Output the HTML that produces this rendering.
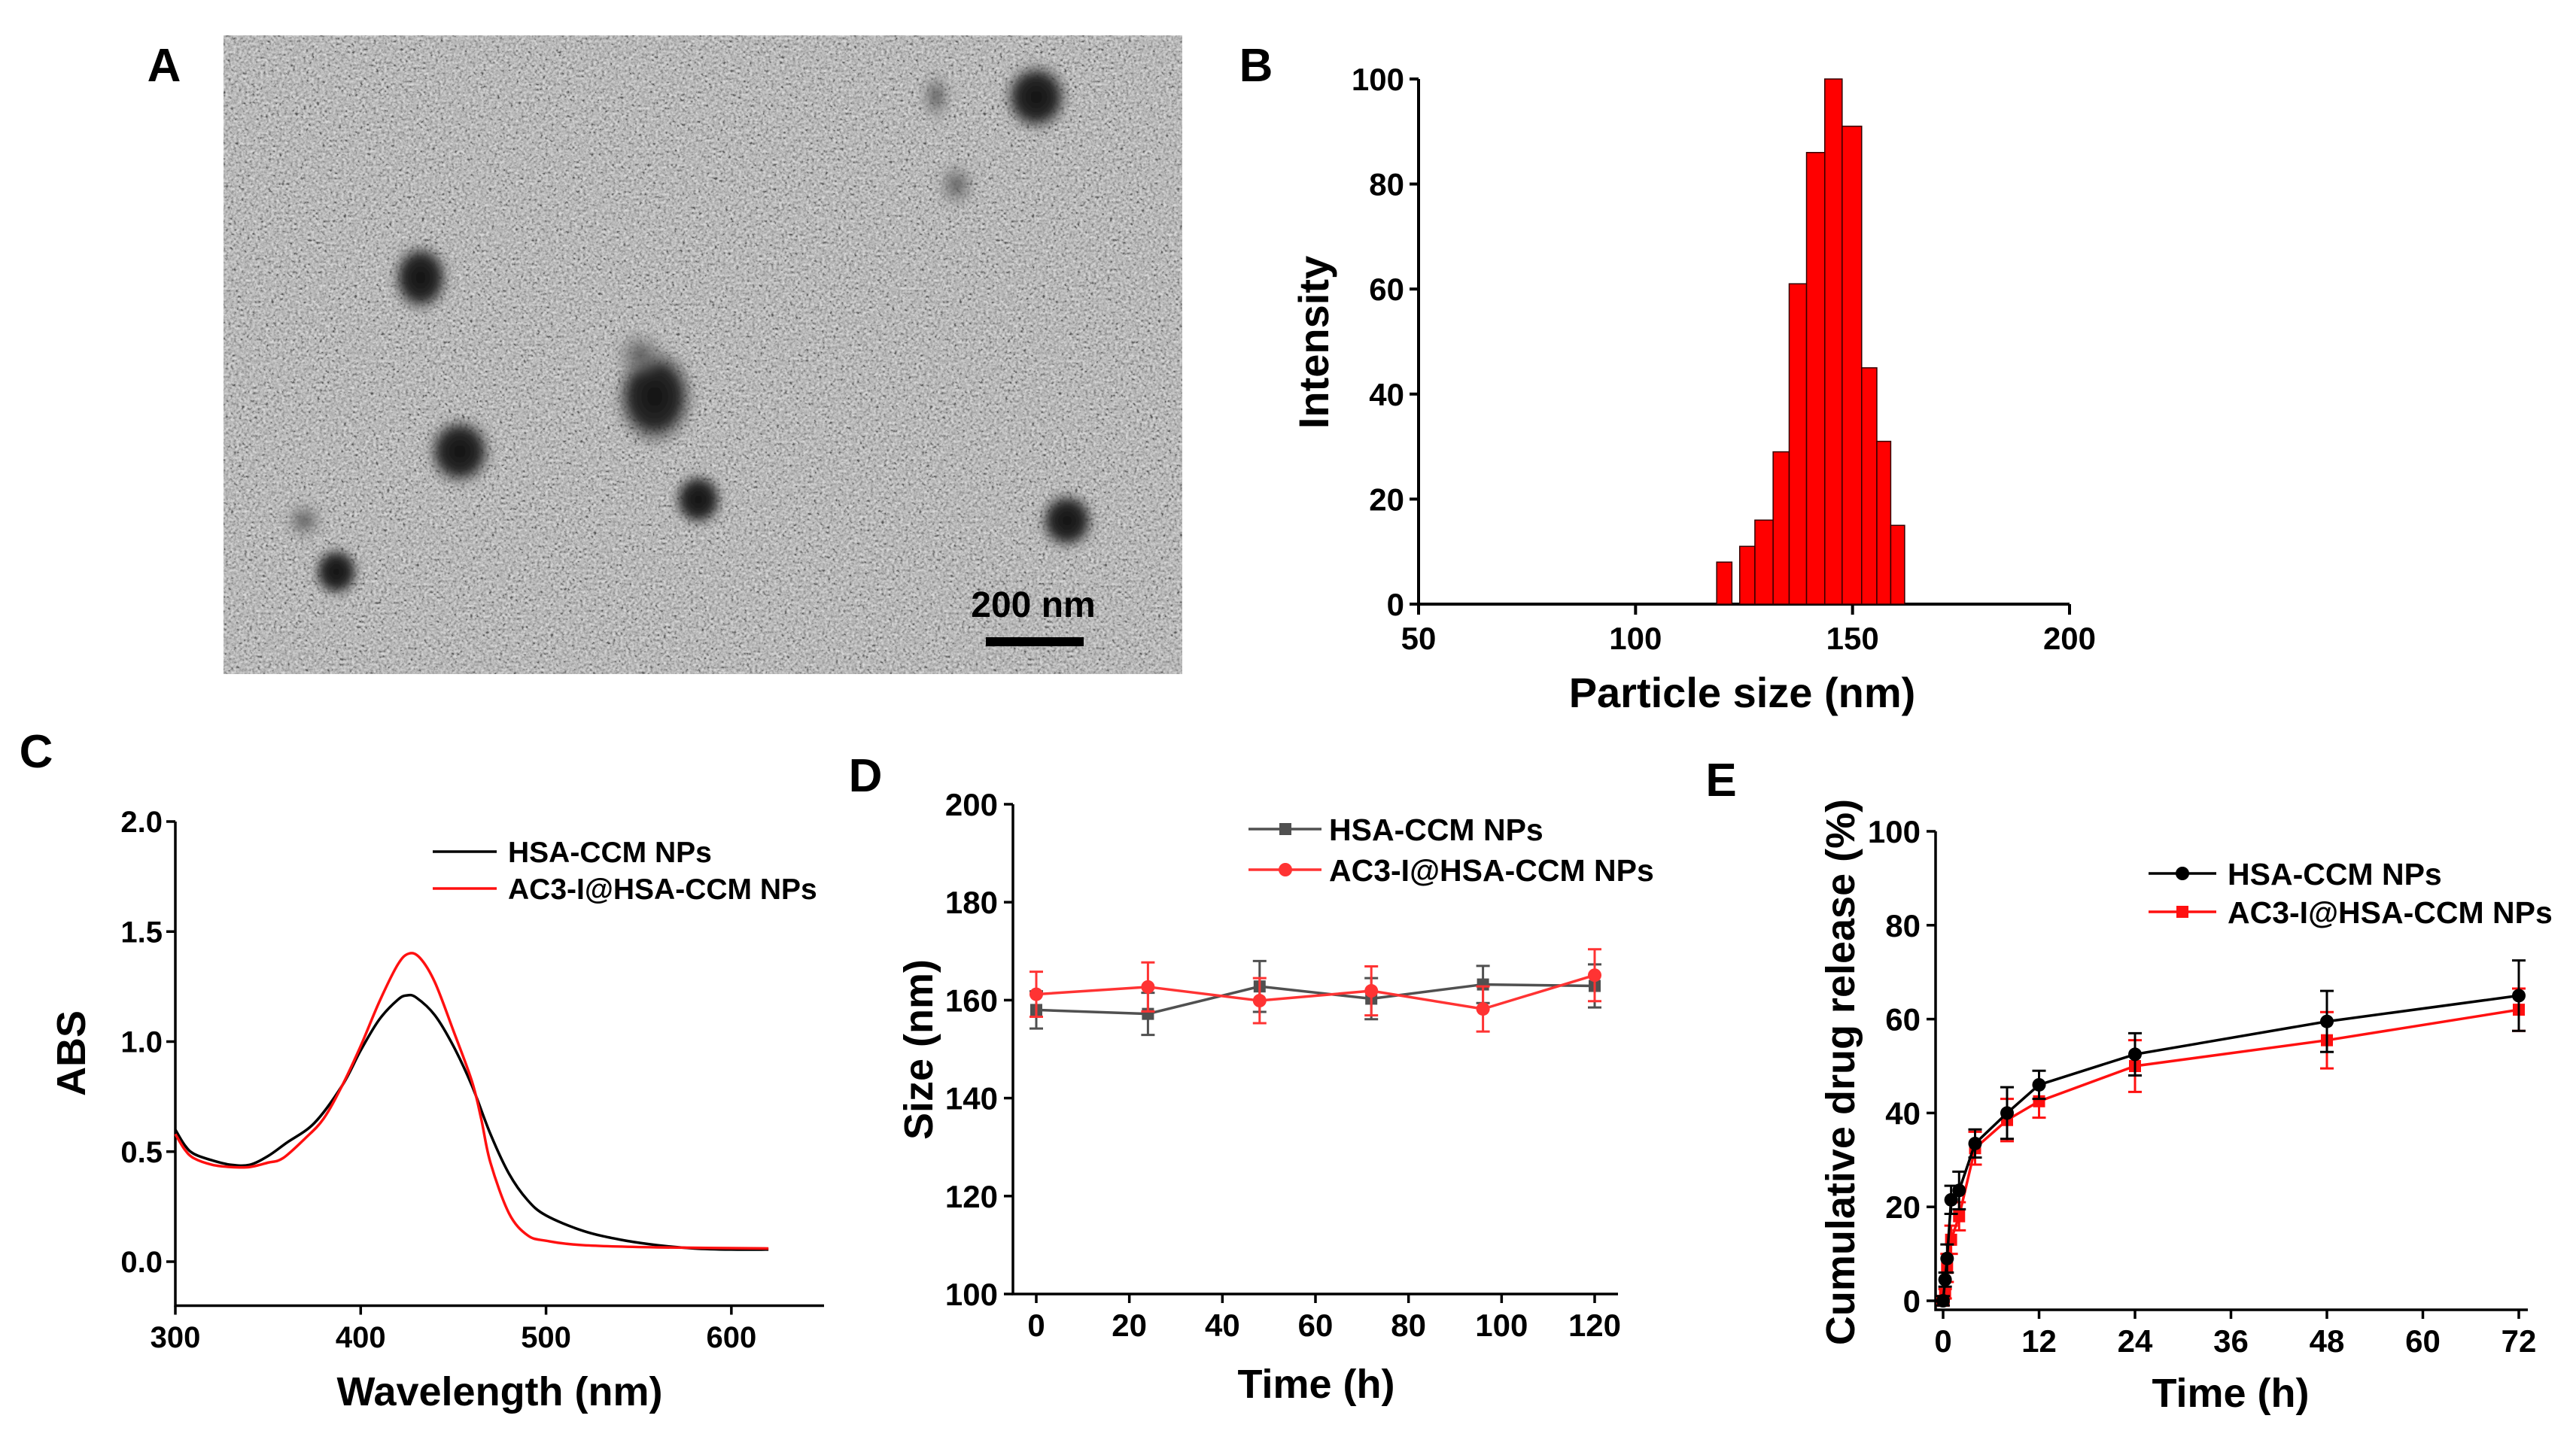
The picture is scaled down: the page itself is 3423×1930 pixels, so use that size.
<!DOCTYPE html>
<html><head><meta charset="utf-8"><style>
html,body{margin:0;padding:0;background:#fff;}
svg{display:block;font-family:"Liberation Sans",Arial,sans-serif;font-weight:bold;}
</style></head><body>
<svg id="fig" width="3423" height="1930" viewBox="0 0 3423 1930" xmlns="http://www.w3.org/2000/svg">
<defs>
<filter id="noise" x="0" y="0" width="100%" height="100%">
<feTurbulence type="fractalNoise" baseFrequency="0.28" numOctaves="2" seed="4" result="t"/>
<feColorMatrix type="matrix" values="0.9 0.9 0.9 0 -0.85  0.9 0.9 0.9 0 -0.85  0.9 0.9 0.9 0 -0.85  0 0 0 0 1" in="t"/>
</filter>
<filter id="blur"><feGaussianBlur stdDeviation="5"/></filter>
<radialGradient id="pd"><stop offset="0" stop-color="#111"/><stop offset="0.55" stop-color="#2a2a2a"/><stop offset="1" stop-color="#777" stop-opacity="0"/></radialGradient>
<radialGradient id="pf"><stop offset="0" stop-color="#5a5a5a"/><stop offset="1" stop-color="#888" stop-opacity="0"/></radialGradient>
</defs>
<g id="panelA">
<text x="218" y="108" font-size="62" text-anchor="middle">A</text>
<rect x="297" y="47" width="1274" height="849" fill="#b4b4b4"/>
<rect x="297" y="47" width="1274" height="849" filter="url(#noise)" opacity="0.5"/>
<g id="particles" filter="url(#blur)"></g>
<text x="1373" y="820" font-size="48" text-anchor="middle">200 nm</text>
<rect x="1310" y="847" width="130" height="12" fill="#000"/>
</g>
<g id="panelB"></g>
<g id="panelC"></g>
<g id="panelD"></g>
<g id="panelE"></g>
</svg>
<script>
// ---- Panel B data ----
const binEdgesLeft = [118.7,124.0,127.5,131.7,135.4,139.4,143.6,147.6,152.1,155.6,158.8];
const binEdgesRight = [122.2,127.5,131.7,135.4,139.4,143.6,147.6,152.1,155.6,158.8,162.0];
const intensityValues = [8,11,16,29,61,86,100,91,45,31,15];
const bXTicks = [50,100,150,200];
const bYTicks = [0,20,40,60,80,100];
// ---- Panel C data ----
const cWaveBlack = [300,305,310,320,330,340,350,360,375,390,400,410,420,425,430,440,450,460,470,480,490,500,520,540,560,580,600,620];
const cAbsBlack  = [0.60,0.53,0.49,0.46,0.44,0.44,0.48,0.54,0.63,0.80,0.96,1.10,1.19,1.21,1.20,1.12,0.98,0.80,0.58,0.40,0.28,0.21,0.14,0.10,0.075,0.06,0.055,0.055];
const cWaveRed = [300,305,310,320,330,340,350,358,370,380,390,400,410,420,426,432,440,450,460,465,470,480,490,500,520,560,620];
const cAbsRed  = [0.58,0.51,0.47,0.44,0.43,0.43,0.45,0.47,0.56,0.65,0.80,0.98,1.18,1.35,1.40,1.38,1.27,1.05,0.82,0.65,0.45,0.22,0.12,0.095,0.075,0.065,0.06];
const cXTicks = [300,400,500,600];
const cYTicks = [0.0,0.5,1.0,1.5,2.0];
const cYLabels = ["0.0","0.5","1.0","1.5","2.0"];
// ---- Panel D data ----
const dTimes = [0,24,48,72,96,120];
const dBlack = [158.0,157.2,162.8,160.3,163.2,162.9];
const dBlackErr = [3.8,4.3,5.2,4.2,3.8,4.4];
const dRed = [161.2,162.7,159.9,161.9,158.2,165.1];
const dRedErr = [4.6,5.0,4.6,5.0,4.6,5.3];
const dXTicks = [0,20,40,60,80,100,120];
const dYTicks = [100,120,140,160,180,200];
// ---- Panel E data ----
const eTimes = [0,0.25,0.5,1,2,4,8,12,24,48,72];
const eBlack = [0,4.5,9,21.5,23.5,33.5,40,46,52.5,59.5,65];
const eBlackErr = [1,1.5,3,3,4,3,5.5,3,4.5,6.5,7.5];
const eRed = [0,1.5,7,13,18,32.5,38.5,42.5,50,55.5,62];
const eRedErr = [0.5,1,3,3,3,3.5,4.5,3.5,5.5,6,4.5];
const eXTicks = [0,12,24,36,48,60,72];
const eYTicks = [0,20,40,60,80,100];

const NS="http://www.w3.org/2000/svg";
function mk(parent,tag,attrs,txt){const e=document.createElementNS(NS,tag);for(const k in attrs)e.setAttribute(k,attrs[k]);if(txt!==undefined)e.textContent=txt;parent.appendChild(e);return e;}
function lin(d0,d1,p0,p1){return v=>p0+(v-d0)/(d1-d0)*(p1-p0);}
function smooth(pts){let d=`M${pts[0][0]},${pts[0][1]}`;for(let i=0;i<pts.length-1;i++){const p0=pts[Math.max(0,i-1)],p1=pts[i],p2=pts[i+1],p3=pts[Math.min(pts.length-1,i+2)];
 const c1=[p1[0]+(p2[0]-p0[0])/6,p1[1]+(p2[1]-p0[1])/6],c2=[p2[0]-(p3[0]-p1[0])/6,p2[1]-(p3[1]-p1[1])/6];
 d+=`C${c1[0]},${c1[1]} ${c2[0]},${c2[1]} ${p2[0]},${p2[1]}`;}return d;}

const pg=document.getElementById('particles');
[[1377,129,36,38,'pd'],[559,369,32,38,'pd'],[870,527,44,54,'pd'],[611,600,36,38,'pd'],[928,664,28,30,'pd'],[1418,692,31,32,'pd'],[447,760,26,28,'pd'],[404,692,22,22,'pf'],[1271,246,22,26,'pf'],[1244,128,18,28,'pf'],[850,470,28,26,'pf']].forEach(p=>{
 const e=mk(pg,'ellipse',{cx:p[0],cy:p[1],rx:p[2]*1.3,ry:p[3]*1.3,fill:'url(#'+p[4]+')'});
 
 
});

function axisText(g,x,y,s,anchor,size,name){const t=mk(g,'text',{x:x,y:y,'font-size':size||36,'text-anchor':anchor||'middle'},s);
 
 
 return t;}

// ---- Panel B ----
(function(){
 const g=document.getElementById('panelB');
 const X=lin(50,200,1885,2750), Y=lin(0,100,803,105);
 axisText(g,1669,108,'B','middle',62,'panel-label-b');
 const ax=mk(g,'path',{d:`M${X(50)},${Y(100)}V${Y(0)}H${X(200)}`,stroke:'#000','stroke-width':4,fill:'none'});
 
 
 bYTicks.forEach(v=>{const l=mk(g,'line',{x1:X(50)-12,x2:X(50),y1:Y(v),y2:Y(v),stroke:'#000','stroke-width':4});
  
  
  axisText(g,1866,Y(v)+15,String(v),'end',42,'b-y-tick-label');});
 bXTicks.forEach(v=>{const l=mk(g,'line',{x1:X(v),x2:X(v),y1:Y(0),y2:Y(0)+14,stroke:'#000','stroke-width':4});
  
  
  axisText(g,X(v),863,String(v),'middle',42,'b-x-tick-label');});
 intensityValues.forEach((v,i)=>{const r=mk(g,'rect',{x:X(binEdgesLeft[i]),y:Y(v),width:X(binEdgesRight[i])-X(binEdgesLeft[i]),height:Y(0)-Y(v),fill:'#ff0000',stroke:'#300','stroke-width':1.5});
  
  });
 axisText(g,2315,940,'Particle size (nm)','middle',56,'b-x-axis-title');
 const t=axisText(g,0,0,'Intensity','middle',56,'b-y-axis-title');t.setAttribute('transform','translate(1765,455) rotate(-90)');
})();

// ---- Panel C ----
(function(){
 const g=document.getElementById('panelC');
 const X=lin(300,650,233,1095), Y=lin(0,2,1677,1092);
 axisText(g,48,1020,'C','middle',62,'panel-label-c');
 const ax=mk(g,'path',{d:`M${X(300)},${Y(2)}V${Y(-0.2)}H${X(650)}`,stroke:'#000','stroke-width':3.5,fill:'none'});
 
 
 cYTicks.forEach((v,i)=>{const l=mk(g,'line',{x1:X(300)-12,x2:X(300),y1:Y(v),y2:Y(v),stroke:'#000','stroke-width':3.5});
  
  
  axisText(g,216,Y(v)+14,cYLabels[i],'end',40,'c-y-tick-label');});
 cXTicks.forEach(v=>{const l=mk(g,'line',{x1:X(v),x2:X(v),y1:Y(-0.2),y2:Y(-0.2)+12,stroke:'#000','stroke-width':3.5});
  
  
  axisText(g,X(v),1791,String(v),'middle',40,'c-x-tick-label');});
 const pb=mk(g,'path',{d:smooth(cWaveBlack.map((w,i)=>[X(w),Y(cAbsBlack[i])])),fill:'none',stroke:'#000','stroke-width':3.5});
 
 
 const pr=mk(g,'path',{d:smooth(cWaveRed.map((w,i)=>[X(w),Y(cAbsRed[i])])),fill:'none',stroke:'#ff1010','stroke-width':3.5});
 
 
 const l1=mk(g,'line',{x1:575,x2:660,y1:1132,y2:1132,stroke:'#000','stroke-width':3.5});
 
 
 axisText(g,675,1146,'HSA-CCM NPs','start',39,'c-legend-label-black');
 const l2=mk(g,'line',{x1:575,x2:660,y1:1181,y2:1181,stroke:'#ff1010','stroke-width':3.5});
 
 
 axisText(g,675,1195,'AC3-I@HSA-CCM NPs','start',39,'c-legend-label-red');
 axisText(g,664,1868,'Wavelength (nm)','middle',54,'c-x-axis-title');
 const t=axisText(g,0,0,'ABS','middle',54,'c-y-axis-title');t.setAttribute('transform','translate(113,1400) rotate(-90)');
})();

function errPts(g,X,Y,xs,ys,es,color,shape,name){
 const p=mk(g,'polyline',{points:xs.map((x,i)=>X(x)+','+Y(ys[i])).join(' '),fill:'none',stroke:color,'stroke-width':3.5});
 
 
 xs.forEach((x,i)=>{
  const e=mk(g,'path',{d:`M${X(x)},${Y(ys[i]-es[i])}V${Y(ys[i]+es[i])}M${X(x)-9},${Y(ys[i]-es[i])}h18M${X(x)-9},${Y(ys[i]+es[i])}h18`,stroke:color,'stroke-width':3,fill:'none'});
  
  
  let m;
  if(shape==='sq'){m=mk(g,'rect',{x:X(x)-8,y:Y(ys[i])-8,width:16,height:16,fill:color});}
  else{m=mk(g,'circle',{cx:X(x),cy:Y(ys[i]),r:9,fill:color});}
  
  
 });
}

// ---- Panel D ----
(function(){
 const g=document.getElementById('panelD');
 const X=lin(0,120,1377,2119), Y=lin(100,200,1720,1069);
 axisText(g,1150,1052,'D','middle',62,'panel-label-d');
 const ax=mk(g,'path',{d:`M1346,${Y(200)}V${Y(100)}H2150`,stroke:'#000','stroke-width':3.5,fill:'none'});
 
 
 dYTicks.forEach(v=>{const l=mk(g,'line',{x1:1334,x2:1346,y1:Y(v),y2:Y(v),stroke:'#000','stroke-width':3.5});
  
  
  axisText(g,1326,Y(v)+15,String(v),'end',42,'d-y-tick-label');});
 dXTicks.forEach(v=>{const l=mk(g,'line',{x1:X(v),x2:X(v),y1:Y(100),y2:Y(100)+12,stroke:'#000','stroke-width':3.5});
  
  
  axisText(g,X(v),1776,String(v),'middle',42,'d-x-tick-label');});
 errPts(g,X,Y,dTimes,dBlack,dBlackErr,'#505050','sq','d-hsa-ccm');
 errPts(g,X,Y,dTimes,dRed,dRedErr,'#ff3333','circ','d-ac3-hsa-ccm');
 const l1=mk(g,'line',{x1:1659,x2:1756,y1:1102,y2:1102,stroke:'#505050','stroke-width':3.5});
 
 
 const m1=mk(g,'rect',{x:1700,y:1094,width:16,height:16,fill:'#505050'});
 
 
 axisText(g,1766,1117,'HSA-CCM NPs','start',41,'d-legend-label-gray');
 const l2=mk(g,'line',{x1:1659,x2:1756,y1:1156,y2:1156,stroke:'#ff3333','stroke-width':3.5});
 
 
 const m2=mk(g,'circle',{cx:1708,cy:1156,r:9,fill:'#ff3333'});
 
 
 axisText(g,1766,1171,'AC3-I@HSA-CCM NPs','start',41,'d-legend-label-red');
 axisText(g,1749,1858,'Time (h)','middle',54,'d-x-axis-title');
 const t=axisText(g,0,0,'Size (nm)','middle',54,'d-y-axis-title');t.setAttribute('transform','translate(1239,1395) rotate(-90)');
})();

// ---- Panel E ----
(function(){
 const g=document.getElementById('panelE');
 const X=lin(0,72,2582,3347), Y=lin(0,100,1729,1105);
 axisText(g,2287,1058,'E','middle',62,'panel-label-e');
 const ax=mk(g,'path',{d:`M2572,${Y(100)}V1741H3359`,stroke:'#000','stroke-width':3.5,fill:'none'});
 
 
 eYTicks.forEach(v=>{const l=mk(g,'line',{x1:2560,x2:2572,y1:Y(v),y2:Y(v),stroke:'#000','stroke-width':3.5});
  
  
  axisText(g,2552,Y(v)+15,String(v),'end',42,'e-y-tick-label');});
 eXTicks.forEach(v=>{const l=mk(g,'line',{x1:X(v),x2:X(v),y1:1741,y2:1753,stroke:'#000','stroke-width':3.5});
  
  
  axisText(g,X(v),1797,String(v),'middle',42,'e-x-tick-label');});
 errPts(g,X,Y,eTimes,eRed,eRedErr,'#ff1010','sq','e-ac3-hsa-ccm');
 errPts(g,X,Y,eTimes,eBlack,eBlackErr,'#000','circ','e-hsa-ccm');
 const l1=mk(g,'line',{x1:2855,x2:2945,y1:1161,y2:1161,stroke:'#000','stroke-width':3.5});
 
 
 const m1=mk(g,'circle',{cx:2900,cy:1161,r:9,fill:'#000'});
 
 
 axisText(g,2960,1176,'HSA-CCM NPs','start',41,'e-legend-label-black');
 const l2=mk(g,'line',{x1:2855,x2:2945,y1:1212,y2:1212,stroke:'#ff1010','stroke-width':3.5});
 
 
 const m2=mk(g,'rect',{x:2892,y:1204,width:16,height:16,fill:'#ff1010'});
 
 
 axisText(g,2960,1227,'AC3-I@HSA-CCM NPs','start',41,'e-legend-label-red');
 axisText(g,2964,1870,'Time (h)','middle',54,'e-x-axis-title');
 const t=axisText(g,0,0,'Cumulative drug release (%)','middle',54,'e-y-axis-title');t.setAttribute('transform','translate(2464,1425) rotate(-90)');
})();
</script>
</body></html>
